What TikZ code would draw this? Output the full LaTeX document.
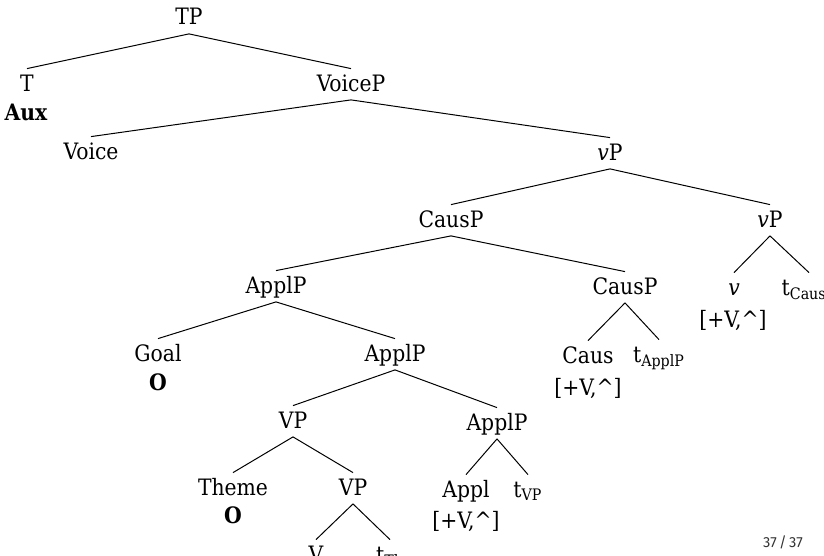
\documentclass[tikz,border=0pt]{standalone}
\usepackage{fontspec}
\setmainfont{DejaVu Serif Condensed}
\newfontfamily\pagefont{Fira Sans}
\definecolor{pagegray}{RGB}{51,51,51}

\tikzset{
	treenode/.style={anchor=base,inner sep=0pt,text height=11pt,text depth=4.25pt,font=\fontsize{11.3}{13}\selectfont},
	feat/.style={anchor=base,inner sep=0pt,font=\fontsize{11.3}{13}\selectfont},
	branch/.style={line width=0.5pt}
}

\begin{document}
\begin{tikzpicture}[x=0.5pt,y=-0.5pt]
	\clip (0,0) rectangle (824,556);
	
	% categories, top to bottom
	\node[treenode] (tp) at (189,25) {TP};
	\node[treenode] (t) at (27,91) {T};
	\node[feat] (aux) at (26,120) {\textbf{Aux}};
	\node[treenode] (voicep) at (351,91) {VoiceP};
	\node[treenode] (voice) at (91,159) {Voice};
	\node[treenode] (vp) at (610,160) {\textit{v}P};
	\node[treenode] (causp) at (451,227) {CausP};
	\node[treenode] (vp2) at (770,227) {\textit{v}P};
	\node[treenode] (applp) at (276,293) {ApplP};
	\node[treenode] (causp2) at (625,294) {CausP};
	\node[treenode] (v) at (734,295) {\textit{v}};
	\node[feat] (vfeat) at (733,327) {[+V,\textasciicircum]};
	\node[treenode] (tcausp) at (809,295) {t\textsubscript{CausP}};
	\node[treenode] (caus) at (588,363) {Caus};
	\node[feat] (causfeat) at (588,395) {[+V,\textasciicircum]};
	\node[treenode] (tapplp) at (659,362) {t\textsubscript{ApplP}};
	\node[treenode] (goal) at (158,361) {Goal};
	\node[feat] (goalo) at (158,390) {\textbf{O}};
	\node[treenode] (applp2) at (395,361) {ApplP};
	\node[treenode] (vp3) at (293,428) {VP};
	\node[treenode] (applp3) at (497,430) {ApplP};
	\node[treenode] (theme) at (233,495) {Theme};
	\node[feat] (themeo) at (233,523) {\textbf{O}};
	\node[treenode] (vp4) at (353,495) {VP};
	\node[treenode] (appl) at (466,497) {Appl};
	\node[feat] (applfeat) at (466,528) {[+V,\textasciicircum]};
	\node[treenode] (tvp) at (528,497) {t\textsubscript{VP}};
	\node[treenode] (vhead) at (316,562) {V};
	\node[treenode] (tth) at (390,562) {t\textsubscript{Th}};
	
	% branches
	\draw[branch] (tp.south) -- (t.north);
	\draw[branch] (tp.south) -- (voicep.north);
	\draw[branch] (voicep.south) -- (voice.north);
	\draw[branch] (voicep.south) -- (vp.north);
	\draw[branch] (vp.south) -- (causp.north);
	\draw[branch] (vp.south) -- (vp2.north);
	\draw[branch] (vp2.south) -- (v.north);
	\draw[branch] (vp2.south) -- (tcausp.north);
	\draw[branch] (causp.south) -- (applp.north);
	\draw[branch] (causp.south) -- (causp2.north);
	\draw[branch] (causp2.south) -- (caus.north);
	\draw[branch] (causp2.south) -- (tapplp.north);
	\draw[branch] (applp.south) -- (goal.north);
	\draw[branch] (applp.south) -- (applp2.north);
	\draw[branch] (applp2.south) -- (vp3.north);
	\draw[branch] (applp2.south) -- (applp3.north);
	\draw[branch] (vp3.south) -- (theme.north);
	\draw[branch] (vp3.south) -- (vp4.north);
	\draw[branch] (applp3.south) -- (appl.north);
	\draw[branch] (applp3.south) -- (tvp.north);
	\draw[branch] (vp4.south) -- (vhead.north);
	\draw[branch] (vp4.south) -- (tth.north);
	
	\node[anchor=base,font=\pagefont\fontsize{7.3}{9}\selectfont,text=pagegray] (pagenum) at (783,547) {37\,/\,37};
\end{tikzpicture}
\end{document}
